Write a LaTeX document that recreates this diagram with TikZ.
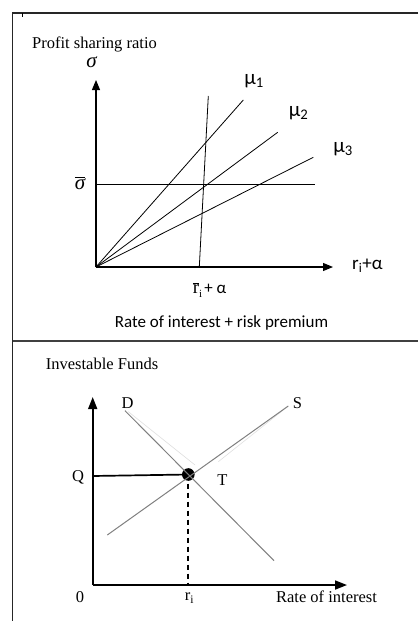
\documentclass[tikz,border=0pt]{standalone}
\usepackage{fontspec}
\setmainfont{Liberation Serif}
\newfontfamily\calfont{Carlito}
\usetikzlibrary{arrows.meta}
\tikzset{
  frameline/.style={line width=1.4pt, black!85},
  midline/.style={line width=1.1pt, black!75},
  thinline/.style={line width=0.8pt, black},
  axisA/.style={line width=1.1pt, -{Triangle[length=10pt,width=8pt]}},
  axisB/.style={line width=1.7pt, -{Triangle[length=12pt,width=9pt]}},
  curve/.style={line width=1pt, black!50},
  faint/.style={line width=0.6pt, black!12},
  serif/.style={inner sep=0pt, font=\fontsize{16.5}{18}\selectfont},
  sans/.style={inner sep=0pt, font=\calfont\fontsize{17}{19}\selectfont},
  mulab/.style={inner sep=0pt, font=\calfont\fontsize{21}{23}\selectfont},
}
\begin{document}
\begin{tikzpicture}[x=1pt,y=-1pt]
\useasboundingbox[fill=white] (0,0) rectangle (418,621);

% frame
\coordinate (ftl) at (12.5,13);
\coordinate (ftr) at (418,13);
\coordinate (fbl) at (12.5,621);
\coordinate (fml) at (12.5,341);
\coordinate (fmr) at (418,341);
\coordinate (tk1) at (22,13);
\coordinate (tk2) at (22,17);
\draw[frameline] (ftr) -- (ftl) -- (fbl);
\draw[midline] (fml) -- (fmr);
\draw[line width=0.6pt] (tk1) -- (tk2);

% ---------- top panel ----------
\coordinate (O1) at (96,267);
\coordinate (Y1) at (96,80);
\coordinate (X1) at (333,267);
\coordinate (sl) at (96,184);
\coordinate (sr) at (315,184);
\coordinate (v1) at (199.3,267);
\coordinate (v2) at (208.3,96);
\coordinate (m1) at (243.3,100);
\coordinate (m2) at (277.7,132.3);
\coordinate (m3) at (313.3,157.3);

\draw[axisA] (O1) -- (Y1);
\draw[axisA] (O1) -- (X1);
\draw[thinline] (sl) -- (sr);
\draw[thinline] (v1) -- (v2);
\draw[thinline] (O1) -- (m1);
\draw[thinline] (O1) -- (m2);
\draw[thinline] (O1) -- (m3);

\node[serif, anchor=west] (psr) at (32,44) {Profit sharing ratio};
\node[inner sep=0pt, font=\itshape\fontsize{21}{23}\selectfont] (sig) at (91.5,62) {σ};
\node[mulab] (mu1) at (254,81) {μ\textsubscript{1}};
\node[mulab] (mu2) at (298.5,113.5) {μ\textsubscript{2}};
\node[mulab] (mu3) at (343,149.5) {μ\textsubscript{3}};
\node[inner sep=0pt, font=\calfont\fontsize{19}{21}\selectfont, anchor=west] (xl1) at (352,266) {r\textsubscript{i}+α};
\node[inner sep=0pt] (sbar) at (80,183) {$\overline{\mbox{\itshape\fontsize{21}{23}\selectfont σ}}$};
\node[inner sep=0pt] (rbar) at (209.5,290) {$\overline{\mbox{\fontsize{19}{21}\selectfont r}}$\textsubscript{\fontsize{11}{12}\selectfont i}\,{\calfont\fontsize{17}{19}\selectfont + α}};
\node[sans] (rir) at (221.5,323) {Rate of interest + risk premium};

% ---------- bottom panel ----------
\coordinate (O2) at (92.7,585);
\coordinate (Y2) at (92.7,397);
\coordinate (X2) at (347,585);
\coordinate (E) at (188.3,474.5);
\coordinate (Qa) at (92.7,476);
\coordinate (ra) at (188.3,585);
\coordinate (d1) at (125,410.7);
\coordinate (d2) at (274,560.7);
\coordinate (s1) at (107.3,535);
\coordinate (s2) at (288.3,406);
\coordinate (fd1) at (128.3,411.7);
\coordinate (fd2) at (195,465);
\coordinate (fs1) at (283.3,410);
\coordinate (fs2) at (218.3,461.7);

\draw[faint] (fd1) -- (fd2);
\draw[faint] (fs1) -- (fs2);
\draw[axisB] (O2) -- (Y2);
\draw[axisB] (O2) -- (X2);
\draw[line width=1.7pt] (Qa) -- (E);
\draw[line width=1.8pt, dash pattern=on 5pt off 4pt] (E) -- (ra);
\fill[black] (E) circle (6.3);
\draw[curve] (d1) -- (d2);
\draw[curve] (s1) -- (s2);

\node[serif, anchor=west] (inv) at (45.7,364) {Investable Funds};
\node[serif] (Dl) at (127.5,403) {D};
\node[serif] (Sl) at (297.5,403) {S};
\node[serif] (Tl) at (222.5,480.5) {T};
\node[serif] (Ql) at (78,477) {Q};
\node[serif] (zero) at (80,597) {0};
\node[serif] (ril) at (189.5,598) {r\textsubscript{i}};
\node[serif] (roi) at (326.5,597) {Rate of interest};
\end{tikzpicture}
\end{document}
